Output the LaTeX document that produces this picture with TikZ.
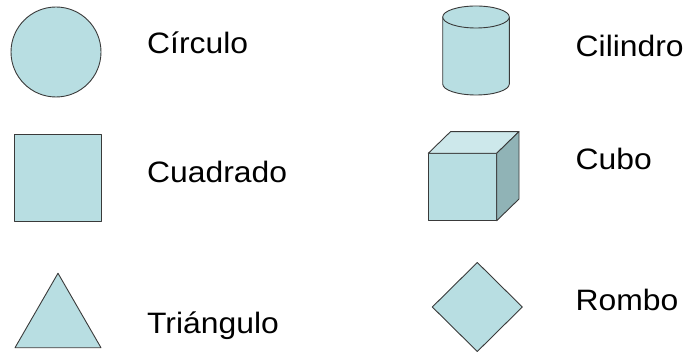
\documentclass[tikz,border=0pt]{standalone}
\usepackage{fontspec}
\setmainfont{Liberation Sans}
\newfontfamily\rotulo[FakeStretch=1.08]{Liberation Sans}
\usetikzlibrary{shapes.geometric}
\definecolor{relleno}{HTML}{B8DEE2}
\definecolor{tapa}{HTML}{CDE8EB}
\definecolor{lado}{HTML}{90B3B6}
\definecolor{borde}{HTML}{3A3A3A}

\begin{document}
\begin{tikzpicture}[x=1pt,y=1pt,
  forma/.style={draw=borde,fill=relleno,line width=0.9pt,line join=round,inner sep=0pt,outer sep=0pt},
  etiqueta/.style={anchor=base west,inner sep=0pt,font=\rotulo\fontsize{29.5}{34}\selectfont}]
  \useasboundingbox (0,0) rectangle (685,353);

  % columna izquierda
  \node[forma,circle,minimum size=90pt] (circulo) at (56,301) {};
  \node[etiqueta] (circulo-txt) at (147,299.7) {Círculo};

  \node[forma,rectangle,minimum size=87pt] (cuadrado) at (57.5,175) {};
  \node[etiqueta] (cuadrado-txt) at (147,170.3) {Cuadrado};

  \node[forma,regular polygon,regular polygon sides=3,minimum size=99.3pt] (triangulo) at (58,30.1) {};
  \node[etiqueta] (triangulo-txt) at (147,19) {Triángulo};

  % columna derecha
  \draw[forma] (442.7,336) -- (442.7,269) arc[start angle=180,end angle=360,x radius=33.3,y radius=11] -- (509.3,336);
  \draw[forma] (476,336) ellipse[x radius=33.3,y radius=11];
  \node[etiqueta] (cilindro-txt) at (575.5,296.3) {Cilindro};

  \draw[forma] (428.3,132.3) rectangle (496.7,199.7);
  \draw[forma,fill=tapa] (428.3,199.7) -- (450.6,221.4) -- (519,221.4) -- (496.7,199.7) -- cycle;
  \draw[forma,fill=lado] (496.7,132.3) -- (519,154) -- (519,221.4) -- (496.7,199.7) -- cycle;
  \node[etiqueta] (cubo-txt) at (575.5,183) {Cubo};

  \node[forma,diamond,minimum width=90pt,minimum height=89pt] (rombo) at (477.3,46) {};
  \node[etiqueta] (rombo-txt) at (575.5,42.3) {Rombo};
\end{tikzpicture}
\end{document}
